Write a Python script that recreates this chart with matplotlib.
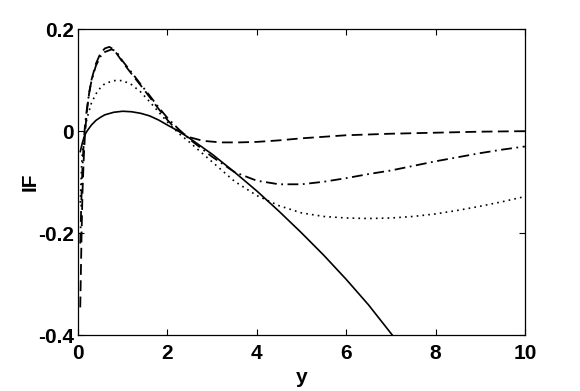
import numpy as np
import matplotlib
matplotlib.use("Agg")
import matplotlib.pyplot as plt

# values
x_solid = [0.05, 0.1, 0.15, 0.2, 0.3, 0.4, 0.5, 0.6, 0.8, 1.0, 1.2, 1.4, 1.6,
           1.8, 2.0, 2.25, 2.5, 3.0, 3.5, 4.0, 4.5, 5.0, 5.5, 6.0, 6.5, 7.04, 7.2]
y_solid = [-0.04, -0.022, -0.008, 0.0, 0.012, 0.021, 0.027, 0.032, 0.037, 0.039,
           0.038, 0.035, 0.030, 0.022, 0.012, 0.0, -0.014, -0.045, -0.080, -0.117,
           -0.157, -0.199, -0.243, -0.290, -0.340, -0.40, -0.418]

x_dot = [0.05, 0.08, 0.1, 0.15, 0.2, 0.3, 0.4, 0.5, 0.6, 0.8, 1.0, 1.2, 1.4, 1.6,
         1.8, 2.0, 2.25, 2.5, 3.0, 3.5, 4.0, 4.5, 5.0, 5.5, 6.0, 6.5, 7.0, 7.5,
         8.0, 8.5, 9.0, 9.5, 10.0]
y_dot = [-0.14, -0.07, -0.04, 0.0, 0.025, 0.055, 0.073, 0.085, 0.093, 0.099, 0.099,
         0.091, 0.077, 0.058, 0.038, 0.018, -0.004, -0.022, -0.060, -0.098, -0.126,
         -0.146, -0.160, -0.167, -0.170, -0.171, -0.170, -0.167, -0.162, -0.155,
         -0.147, -0.138, -0.128]

x_dd = [0.05, 0.08, 0.1, 0.13, 0.16, 0.2, 0.25, 0.3, 0.4, 0.5, 0.6, 0.75, 0.85,
        1.0, 1.2, 1.4, 1.6, 1.8, 2.0, 2.25, 2.5, 3.0, 3.5, 4.0, 4.5, 5.0, 5.5,
        6.0, 6.5, 7.0, 7.5, 8.0, 8.5, 9.0, 9.5, 10.0]
y_dd = [-0.22, -0.12, -0.07, -0.02, 0.015, 0.045, 0.075, 0.098, 0.128, 0.146,
        0.155, 0.160, 0.157, 0.137, 0.115, 0.092, 0.070, 0.047, 0.026, 0.004,
        -0.016, -0.050, -0.080, -0.097, -0.104, -0.104, -0.099, -0.092, -0.084,
        -0.077, -0.068, -0.059, -0.051, -0.043, -0.036, -0.030]

x_dash = [0.05, 0.08, 0.1, 0.13, 0.16, 0.2, 0.25, 0.3, 0.4, 0.5, 0.6, 0.7, 0.8,
          1.0, 1.2, 1.4, 1.6, 1.8, 2.0, 2.2, 2.5, 2.8, 3.2, 3.6, 4.0, 4.5, 5.0,
          5.5, 6.0, 7.0, 8.0, 9.0, 10.0]
y_dash = [-0.345, -0.20, -0.12, -0.05, 0.0, 0.04, 0.075, 0.10, 0.132, 0.152,
          0.162, 0.165, 0.160, 0.135, 0.112, 0.090, 0.067, 0.044, 0.022, 0.003,
          -0.012, -0.019, -0.022, -0.022, -0.021, -0.018, -0.014, -0.011, -0.008,
          -0.005, -0.003, -0.001, 0.0]

xticks = [0, 2, 4, 6, 8, 10]
yticks = [-0.4, -0.2, 0, 0.2]
ytick_labels = ["-0.4", "-0.2", "0", "0.2"]

plt.rcParams['font.family'] = ['Liberation Sans', 'DejaVu Sans']
plt.rcParams['font.weight'] = 'bold'

fig = plt.figure(figsize=(5.8, 3.91), dpi=100)
ax = fig.add_axes([0.1345, 0.142, 0.7705, 0.7838])

ax.plot(x_solid, y_solid, color='k', lw=1.2, ls='-')
ax.plot(x_dot, y_dot, color='k', lw=1.2, ls=(0, (1, 2.5)))
ax.plot(x_dd, y_dd, color='k', lw=1.3, ls=(0, (6, 2.5, 1, 2.5)))
ax.plot(x_dash, y_dash, color='k', lw=1.3, ls=(0, (6, 3)))

ax.set_xlim(0, 10)
ax.set_ylim(-0.4, 0.2)
ax.set_xticks(xticks)
ax.set_xticklabels([str(t) for t in xticks])
ax.set_yticks(yticks)
ax.set_yticklabels(ytick_labels)
ax.tick_params(direction='in', length=4, width=0.8, top=True, right=True,
               labelsize=15)
ax.tick_params(axis='x', pad=6)
ax.tick_params(axis='y', pad=3)
for s in ax.spines.values():
    s.set_linewidth(0.9)

ax.set_xlabel("y", fontsize=15, fontweight='bold', labelpad=4)
ax.set_ylabel("IF", fontsize=15, fontweight='bold')
ax.yaxis.set_label_coords(-0.085, 0.5)

fig.savefig("out.png", dpi=100)
